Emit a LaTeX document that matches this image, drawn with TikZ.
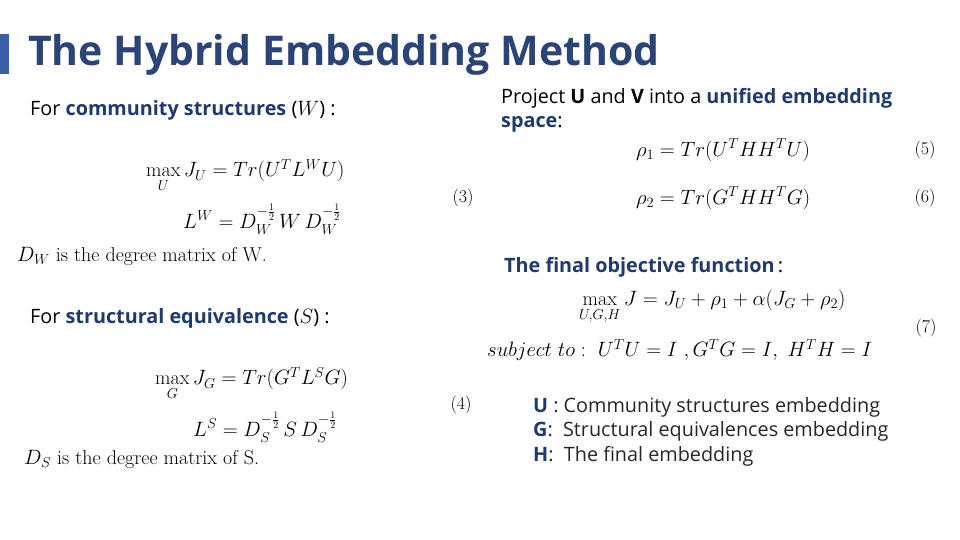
\documentclass[tikz,border=0pt]{standalone}
\usepackage{amsmath}
\usepackage{fontspec}
\setsansfont{Open Sans}
\definecolor{ttl}{HTML}{2B4478}
\definecolor{bar}{HTML}{3B5FA6}
\definecolor{kw}{HTML}{1F3A6B}
\begin{document}
\begin{tikzpicture}[x=1pt,y=-1pt,
  txt/.style={anchor=west,inner sep=0pt,font=\sffamily\fontsize{19.8}{24.5}\selectfont},
  eq/.style={anchor=west,inner sep=0pt,font=\fontsize{20}{24}\selectfont},
  num/.style={anchor=center,inner sep=0pt,font=\fontsize{18}{20}\selectfont}]
\useasboundingbox (0,0) rectangle (960,540);
\fill[bar] (0,34) rectangle (9,74);
\node[anchor=west,inner sep=0pt,text=ttl,font=\sffamily\bfseries\fontsize{41}{48}\selectfont] (title) at (28,55) {The Hybrid Embedding Method};
% left column
\node[txt] (c1) at (30,110) {For \textbf{\color{kw}community structures} ($W$) :};
\node[eq] (e3a) at (146,176) {$\max\limits_U J_U = Tr(U^TL^WU)$};
\node[eq] (e3b) at (183,219) {$L^W = D_W^{-\frac12}\,W\,D_W^{-\frac12}$};
\node[num] (n3) at (463,198) {(3)};
\node[eq] (dw) at (17,256) {$D_W$ is the degree matrix of W.};
\node[txt] (c2) at (30,318) {For \textbf{\color{kw}structural equivalence} ($S$) :};
\node[eq] (e4a) at (155,384) {$\max\limits_G J_G = Tr(G^TL^SG)$};
\node[eq] (e4b) at (193,427) {$L^S = D_S^{-\frac12}\,S\,D_S^{-\frac12}$};
\node[num] (n4) at (461,405) {(4)};
\node[eq] (ds) at (24,459) {$D_S$ is the degree matrix of S.};
% right column
\node[txt,align=left,anchor=north west] (p) at (501,88) {Project \textbf{U} and \textbf{V} into a \textbf{\color{kw}unified embedding}\\\textbf{\color{kw}space}:};
\node[eq] (e5) at (636,150) {$\rho_1 = Tr(U^THH^TU)$};
\node[num] (n5) at (925,150) {(5)};
\node[eq] (e6) at (636,198) {$\rho_2 = Tr(G^THH^TG)$};
\node[num] (n6) at (925,198) {(6)};
\node[txt] (f) at (504,267) {\textbf{\color{kw}The final objective function}\,:};
\node[eq] (e7a) at (579,307) {$\max\limits_{U,G,H} J = J_U+\rho_1+\alpha(J_G+\rho_2)$};
\node[eq] (e7b) at (487,350) {$subject\ to:\ U^TU=I\ ,G^TG=I,\ H^TH=I$};
\node[num] (n7) at (926,328) {(7)};
\node[txt,align=left,anchor=north west,text=black!85] (leg) at (533,397) {\textbf{\color{kw}U} : Community structures embedding\\\textbf{\color{kw}G}:\ \ Structural equivalences embedding\\\textbf{\color{kw}H}:\ \ The final embedding};
\end{tikzpicture}
\end{document}
